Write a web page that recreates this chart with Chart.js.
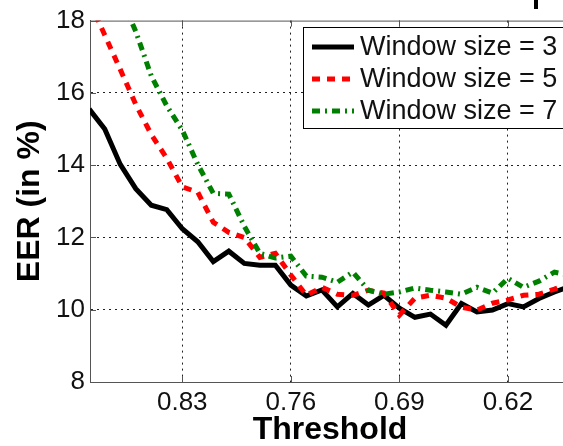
<!DOCTYPE html>
<html>
<head>
<meta charset="utf-8">
<script src="https://cdn.jsdelivr.net/npm/chart.js@4.4.0/dist/chart.umd.min.js"></script>
<style>
  html, body { margin: 0; padding: 0; background: #fff; overflow: hidden; }
  #wrap { width: 580px; height: 446px; }
</style>
</head>
<body>
<div id="wrap"><canvas id="myChart" width="580" height="446"></canvas></div>
<script>
// thresholds (x axis runs from high to low)
const thresholds = [0.89, 0.88, 0.87, 0.86, 0.85, 0.84, 0.83, 0.82, 0.81, 0.80, 0.79,
  0.78, 0.77, 0.76, 0.75, 0.74, 0.73, 0.72, 0.71, 0.70, 0.69, 0.68, 0.67, 0.66, 0.65,
  0.64, 0.63, 0.62, 0.61, 0.60, 0.59, 0.58];

const eer3 = [15.55, 15.0, 14.02, 13.35, 12.89, 12.77, 12.24, 11.88, 11.33, 11.62, 11.28,
  11.23, 11.23, 10.68, 10.38, 10.55, 10.08, 10.45, 10.13, 10.40, 10.04, 9.79, 9.88, 9.57, 10.17,
  9.94, 9.99, 10.17, 10.08, 10.31, 10.49, 10.65];

const eer5 = [18.55, 17.6, 16.65, 15.68, 14.85, 14.19, 13.40, 13.25, 12.42, 12.14, 12.0,
  11.45, 11.56, 10.96, 10.40, 10.62, 10.43, 10.40, 10.54, 10.46, 9.85, 10.32, 10.40, 10.32, 10.07,
  9.99, 10.18, 10.27, 10.40, 10.43, 10.57, 10.75];

const eer7 = [20.4, 19.55, 18.7, 17.70, 16.47, 15.64, 14.97, 14.02, 13.22, 13.20, 12.31,
  11.56, 11.43, 11.48, 10.93, 10.90, 10.76, 11.04, 10.54, 10.43, 10.49, 10.60, 10.54, 10.49, 10.43,
  10.62, 10.46, 10.87, 10.62, 10.79, 11.04, 10.95];

const xTicks = [0.83, 0.76, 0.69, 0.62];
const yTicks = [8, 10, 12, 14, 16, 18];
const seriesLabels = ['Window size = 3', 'Window size = 5', 'Window size = 7'];

const FONT = "'Liberation Sans', Arial, sans-serif";

function toPoints(vals) {
  return thresholds.map((t, i) => ({ x: t, y: vals[i] }));
}

// matlab style frame: top border, inward ticks, legend box
const framePlugin = {
  id: 'frame',
  afterDatasetsDraw(chart) {
    const { ctx, chartArea: a, scales } = chart;
    const x = scales.x, y = scales.y;
    ctx.save();
    ctx.strokeStyle = '#555';
    ctx.lineWidth = 1;
    ctx.beginPath();
    ctx.moveTo(a.left, a.top + 0.5);
    ctx.lineTo(a.right, a.top + 0.5);
    xTicks.forEach(v => {
      const px = Math.round(x.getPixelForValue(v)) + 0.5;
      ctx.moveTo(px, a.bottom);
      ctx.lineTo(px, a.bottom - 6);
      ctx.moveTo(px, a.top);
      ctx.lineTo(px, a.top + 6);
    });
    yTicks.forEach(v => {
      const py = Math.round(y.getPixelForValue(v)) + 0.5;
      ctx.moveTo(a.left, py);
      ctx.lineTo(a.left + 6, py);
    });
    ctx.stroke();

    // bit of a cut-off panel label above the axes
    ctx.fillStyle = '#000';
    ctx.fillRect(534, 0, 4, 9);

    // legend
    const bx = 303, by = 27, bw = 280, bh = 101;
    ctx.fillStyle = '#fff';
    ctx.fillRect(bx, by, bw, bh);
    ctx.strokeStyle = '#000';
    ctx.strokeRect(bx + 0.5, by + 0.5, bw, bh);
    ctx.font = '27px ' + FONT;
    ctx.textBaseline = 'middle';
    const rowY = [47, 79, 111];
    chart.data.datasets.forEach((ds, i) => {
      const ry = rowY[i];
      ctx.save();
      ctx.strokeStyle = ds.borderColor;
      ctx.lineWidth = ds.borderWidth;
      ctx.setLineDash(ds.borderDash || []);
      ctx.beginPath();
      ctx.moveTo(312, ry);
      ctx.lineTo(354, ry);
      ctx.stroke();
      ctx.restore();
      ctx.fillStyle = '#111';
      ctx.fillText(ds.label, 360, ry + 1);
    });
    ctx.restore();
  }
};

const ctx = document.getElementById('myChart');

new Chart(ctx, {
  type: 'line',
  data: {
    datasets: [
      {
        label: seriesLabels[0],
        data: toPoints(eer3),
        borderColor: '#000000',
        borderWidth: 5,
        pointRadius: 0,
        tension: 0,
        order: 2
      },
      {
        label: seriesLabels[1],
        data: toPoints(eer5),
        borderColor: '#ff0000',
        borderWidth: 5,
        borderDash: [8, 7],
        pointRadius: 0,
        tension: 0,
        order: 1
      },
      {
        label: seriesLabels[2],
        data: toPoints(eer7),
        borderColor: '#008000',
        borderWidth: 5,
        borderDash: [8, 5, 2, 5],
        pointRadius: 0,
        tension: 0,
        order: 0
      }
    ]
  },
  options: {
    responsive: false,
    animation: false,
    layout: { padding: { top: 20, right: 10, left: 0, bottom: 0 } },
    plugins: {
      legend: { display: false },
      tooltip: { enabled: false }
    },
    scales: {
      x: {
        type: 'linear',
        reverse: true,
        min: 0.58,
        max: 0.8895,
        afterBuildTicks: s => { s.ticks = xTicks.map(v => ({ value: v })); },
        afterFit: s => { s.height = 64; },
        ticks: {
          color: '#111',
          font: { family: FONT, size: 26 },
          padding: 5,
          maxRotation: 0,
          callback: v => v.toFixed(2)
        },
        grid: { color: '#222', lineWidth: 1, drawTicks: false },
        border: { display: true, color: '#555', width: 1, dash: [2, 4] },
        title: {
          display: true,
          text: 'Threshold',
          color: '#000',
          font: { family: FONT, size: 32, weight: 'bold', lineHeight: 1 },
          padding: { top: 0, bottom: 0 }
        }
      },
      y: {
        min: 8,
        max: 18,
        afterBuildTicks: s => { s.ticks = yTicks.map(v => ({ value: v })); },
        afterFit: s => { s.width = 90; },
        ticks: {
          color: '#111',
          font: { family: FONT, size: 26 },
          padding: 5
        },
        grid: {
          color: c => (c.tick && (c.tick.value === 8 || c.tick.value === 18)) ? 'rgba(0,0,0,0)' : '#222',
          lineWidth: 1,
          drawTicks: false
        },
        border: { display: true, color: '#555', width: 1, dash: [2, 4] },
        title: {
          display: true,
          text: 'EER (in %)',
          color: '#000',
          font: { family: FONT, size: 32, weight: 'bold', lineHeight: 1 },
          padding: { top: 14, bottom: 0 }
        }
      }
    }
  },
  plugins: [framePlugin]
});
</script>
</body>
</html>
